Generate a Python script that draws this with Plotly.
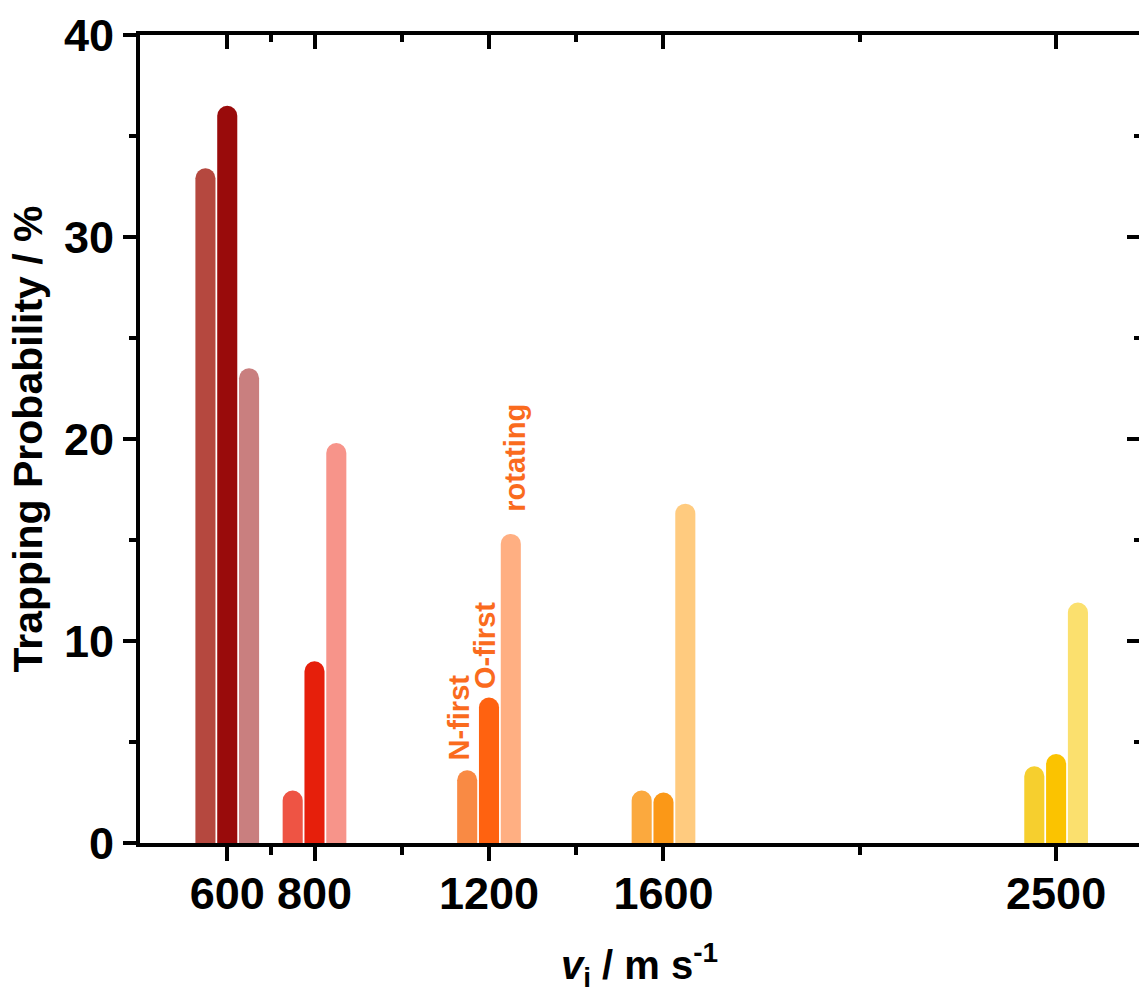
import plotly.graph_objects as go

# Data
velocities = [600, 800, 1200, 1600, 2500]
n_first = [33.4, 2.6, 3.6, 2.6, 3.8]
o_first = [36.5, 9.0, 7.2, 2.5, 4.4]
rotating = [23.5, 19.8, 15.3, 16.8, 11.9]
series_names = ["N-first", "O-first", "rotating"]

tick_vals = [600, 800, 1200, 1600, 2500]
tick_text = ["600", "800", "1200", "1600", "2500"]
minor_vals = [700, 1000, 1400, 2050]

# Styles
colors_n = ["#B5483F", "#EE5444", "#F98A44", "#FBA93E", "#F6CF2E"]
colors_o = ["#990B0B", "#E61F0B", "#FF6210", "#FB9817", "#FBC300"]
colors_r = ["#C97F7F", "#F7948A", "#FFAF82", "#FFCB7F", "#FBE06E"]
label_color = "#FA6B1E"
FONT = "Liberation Sans, Arial, sans-serif"
BW = 46
SPACING = 50

fig = go.Figure()
for vals, cols, name, off in [
    (n_first, colors_n, series_names[0], -SPACING - BW / 2),
    (o_first, colors_o, series_names[1], -BW / 2),
    (rotating, colors_r, series_names[2], SPACING - BW / 2),
]:
    fig.add_trace(go.Bar(
        x=velocities, y=vals, name=name, width=BW, offset=off,
        marker=dict(color=cols, line=dict(width=0), cornerradius="50%"),
        showlegend=False,
    ))

# dummy trace for mirrored axes
fig.add_trace(go.Scatter(x=[], y=[], xaxis="x2", yaxis="y2", showlegend=False))

# labels above the 1200 group
i1200 = velocities.index(1200)
for name, xv, yv, xs, ys in [
    (series_names[0], 1200 - SPACING, n_first[i1200], -8, 8),
    (series_names[1], 1200, o_first[i1200], -4, 6),
    (series_names[2], 1200 + SPACING, rotating[i1200], 4, 20),
]:
    fig.add_annotation(x=xv, y=yv, text=name, textangle=-90, showarrow=False,
                       xanchor="center", yanchor="bottom", xshift=xs, yshift=ys,
                       font=dict(family=FONT, size=29, color=label_color, weight="bold"))

xr = [400, 2690]
yr = [0, 40]
fig.update_layout(
    width=1139, height=993,
    margin=dict(l=140, r=0, t=35, b=150),
    paper_bgcolor="white", plot_bgcolor="white",
    barmode="overlay",
    font=dict(family=FONT, color="black"),
    xaxis=dict(
        range=xr, tickmode="array", tickvals=tick_vals, ticktext=tick_text,
        ticks="outside", ticklen=14, tickwidth=4, tickcolor="black",
        minor=dict(tickmode="array", tickvals=minor_vals, ticks="outside", ticklen=8, tickwidth=4, tickcolor="black"),
        showline=True, linewidth=4, linecolor="black", mirror=True,
        showgrid=False, zeroline=False, ticklabelstandoff=-6,
        tickfont=dict(size=45, family=FONT, weight="bold"),
        title=dict(text="<i>v</i><sub>i</sub> / m s<sup>-1</sup>", standoff=34,
                   font=dict(size=40, family=FONT, weight="bold")),
    ),
    xaxis2=dict(
        range=xr, overlaying="x", side="top", anchor="y", tickmode="array", tickvals=tick_vals,
        ticks="inside", ticklen=14, tickwidth=4, tickcolor="black",
        minor=dict(tickmode="array", tickvals=minor_vals, ticks="inside", ticklen=7, tickwidth=4, tickcolor="black"),
        showticklabels=False, showline=False, showgrid=False, zeroline=False,
    ),
    yaxis=dict(
        range=yr, tickmode="array", tickvals=[0, 10, 20, 30, 40],
        ticks="outside", ticklen=13, tickwidth=4, tickcolor="black",
        minor=dict(dtick=5, tick0=0, ticks="outside", ticklen=7, tickwidth=4, tickcolor="black"),
        showline=True, linewidth=4, linecolor="black", mirror=False,
        showgrid=False, zeroline=False,
        tickfont=dict(size=45, family=FONT, weight="bold"),
        title=dict(text="Trapping Probability / %", standoff=10,
                   font=dict(size=41, family=FONT, weight="bold")),
    ),
    yaxis2=dict(
        range=yr, overlaying="y", side="right", anchor="x", tickmode="array", tickvals=[0, 10, 20, 30, 40],
        ticks="inside", ticklen=12, tickwidth=4, tickcolor="black",
        minor=dict(dtick=5, tick0=0, ticks="inside", ticklen=5, tickwidth=4, tickcolor="black"),
        showticklabels=False, showline=False, showgrid=False, zeroline=False,
    ),
)

fig.write_html("out.html")
